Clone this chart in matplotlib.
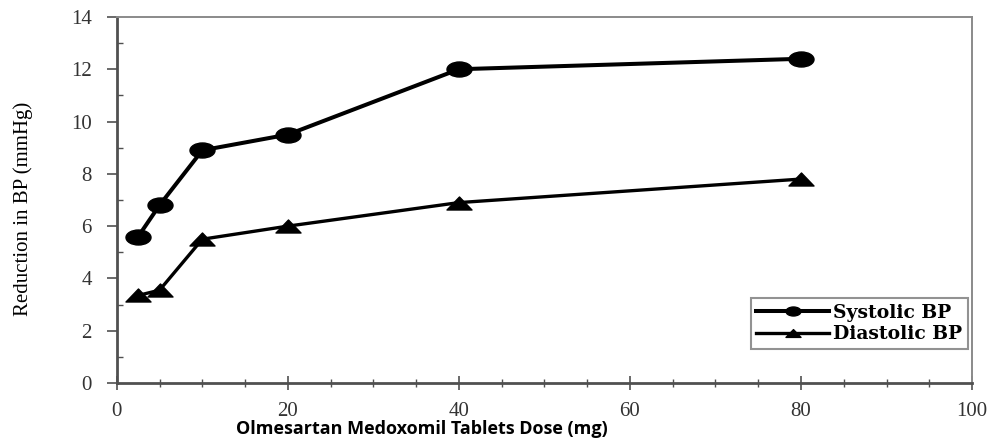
import matplotlib.pyplot as plt
from matplotlib.path import Path
from matplotlib.ticker import MultipleLocator

# Dosis (mg) en bloeddrukdaling (mmHg)
dose = [2.5, 5, 10, 20, 40, 80]
systolic = [5.6, 6.8, 8.9, 9.5, 12.0, 12.4]
diastolic = [3.35, 3.55, 5.5, 6.0, 6.9, 7.8]

# het origineel is horizontaal uitgerekt: brede markers
circ = Path.unit_circle()
ellipse = Path(circ.vertices * [1.0, 0.6], circ.codes)
tri = Path([(-1, -0.52), (1, -0.52), (0, 0.52), (-1, -0.52)],
           [Path.MOVETO, Path.LINETO, Path.LINETO, Path.CLOSEPOLY])

fig = plt.figure(figsize=(9.98, 4.40), dpi=100)
ax = fig.add_axes([0.117, 0.1295, 0.857, 0.832])

ax.plot(dose, systolic, color='black', lw=2.9, marker=ellipse, ms=18, label='Systolic BP')
ax.plot(dose, diastolic, color='black', lw=2.4, marker=tri, ms=18, label='Diastolic BP')

ax.set_xlim(0, 100)
ax.set_ylim(0, 14)
ax.xaxis.set_major_locator(MultipleLocator(20))
ax.xaxis.set_minor_locator(MultipleLocator(5))
ax.yaxis.set_major_locator(MultipleLocator(2))
ax.yaxis.set_minor_locator(MultipleLocator(1))

for s in ['top', 'right']:
    ax.spines[s].set_linewidth(1.4)
    ax.spines[s].set_color('#8a8a8a')
for s in ['left', 'bottom']:
    ax.spines[s].set_linewidth(2.0)
    ax.spines[s].set_color('#505050')

ax.tick_params(axis='x', which='major', direction='inout', length=10, width=1.2, colors='#505050', pad=9)
ax.tick_params(axis='x', which='minor', direction='inout', length=6, width=1.0, colors='#505050')
ax.tick_params(axis='y', which='major', direction='out', length=7, width=1.2, colors='#505050', pad=11)
ax.tick_params(axis='y', which='minor', direction='in', length=4, width=1.0, colors='#505050')
ax.tick_params(which='major', labelcolor='#333333')

for lab in ax.get_xticklabels() + ax.get_yticklabels():
    lab.set_fontfamily('Liberation Serif')
    lab.set_fontsize(15)

ax.set_ylabel('Reduction in BP (mmHg)', fontfamily='Liberation Serif', fontsize=15)
ax.yaxis.set_label_coords(-0.098, 0.475)
ax.set_xlabel('Olmesartan Medoxomil Tablets Dose (mg)', fontfamily='Open Sans',
              fontweight='bold', fontsize=13)
ax.xaxis.set_label_coords(0.357, -0.1)

leg = ax.legend(loc='lower right', bbox_to_anchor=(0.995, 0.093), borderaxespad=0,
                frameon=True, fancybox=False, markerscale=0.6,
                prop={'family': 'DejaVu Serif', 'weight': 'bold', 'size': 13.5},
                handlelength=3.9, handletextpad=0.2, borderpad=0.3, labelspacing=0.2)
leg.get_frame().set_edgecolor('#777777')
leg.get_frame().set_linewidth(1.5)

fig.savefig('out.png', dpi=100)
